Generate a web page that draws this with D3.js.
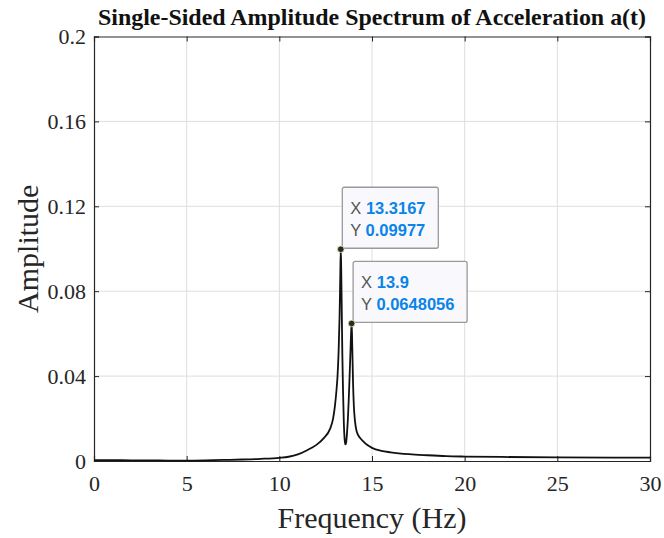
<!DOCTYPE html>
<html>
<head>
<title>Amplitude Spectrum</title>
<script src="https://cdn.jsdelivr.net/npm/d3@7"></script>
<style>
body { margin: 0; background: #fff; }
svg { display: block; }
</style>
</head>
<body>
<svg width="664" height="538"></svg>
<script>
// spectrum (Hz, amplitude)
var freq = [0, 1, 2, 3, 4, 5, 6, 7, 8, 9, 10, 10.5, 11, 11.5, 12, 12.4,
            12.73, 12.9, 13.0, 13.08, 13.14, 13.2, 13.25, 13.29, 13.3167,
            13.34, 13.37, 13.4, 13.44, 13.48, 13.52, 13.56, 13.6, 13.65,
            13.7, 13.75, 13.8, 13.84, 13.87, 13.9, 13.92, 13.95, 13.98,
            14.02, 14.08, 14.17, 14.36, 14.5, 14.75, 15, 15.5, 16, 17, 18,
            19, 20, 22, 25, 28, 30];
var amp = [0.0004, 0.0004, 0.0003, 0.0003, 0.0002, 0.0002, 0.0003, 0.0005,
           0.0007, 0.001, 0.0015, 0.002, 0.0031, 0.0051, 0.0076, 0.0108,
           0.015, 0.02, 0.026, 0.033, 0.04, 0.052, 0.068, 0.088, 0.09977,
           0.09, 0.07, 0.05, 0.032, 0.018, 0.0105, 0.0078, 0.0085, 0.013,
           0.02, 0.03, 0.042, 0.052, 0.06, 0.0648056, 0.06, 0.048, 0.036,
           0.026, 0.019, 0.014, 0.0108, 0.0095, 0.0075, 0.0062, 0.0048,
           0.0041, 0.0032, 0.0027, 0.0023, 0.0021, 0.0019, 0.0017, 0.0016,
           0.0016];

var xTicks = [0, 5, 10, 15, 20, 25, 30];
var yTicks = [0, 0.04, 0.08, 0.12, 0.16, 0.2];
var yTickLabels = ["0", "0.04", "0.08", "0.12", "0.16", "0.2"];

// data tips
var tipX = [13.3167, 13.9];
var tipY = [0.09977, 0.0648056];
var tipXText = ["13.3167", "13.9"];
var tipYText = ["0.09977", "0.0648056"];

var svg = d3.select("svg");
var x = d3.scaleLinear().domain([0, 30]).range([94, 650]);
var y = d3.scaleLinear().domain([0, 0.2]).range([461, 36.5]);

var serif = "'Liberation Serif', 'Times New Roman', serif";
var sans = "'Liberation Sans', Arial, sans-serif";

// grid
svg.append("g").selectAll("line")
    .data(xTicks.slice(1, -1))
  .enter().append("line")
    .attr("x1", function(d){ return x(d); })
    .attr("x2", function(d){ return x(d); })
    .attr("y1", y(0)).attr("y2", y(0.2))
    .attr("stroke", "#dedede").attr("stroke-width", 1);
svg.append("g").selectAll("line")
    .data(yTicks.slice(1, -1))
  .enter().append("line")
    .attr("y1", function(d){ return y(d); })
    .attr("y2", function(d){ return y(d); })
    .attr("x1", x(0)).attr("x2", x(30))
    .attr("stroke", "#dedede").attr("stroke-width", 1);

// axes, ticks inward on every side
var axBottom = svg.append("g").attr("transform", "translate(0," + y(0) + ")")
    .call(d3.axisBottom(x).tickValues(xTicks).tickSize(-5).tickPadding(14));
var axTop = svg.append("g").attr("transform", "translate(0," + y(0.2) + ")")
    .call(d3.axisTop(x).tickValues(xTicks).tickSize(-5).tickFormat(""));
var axLeft = svg.append("g").attr("transform", "translate(" + x(0) + ",0)")
    .call(d3.axisLeft(y).tickValues(yTicks).tickSize(-5).tickPadding(8)
          .tickFormat(function(d, i){ return yTickLabels[i]; }));
var axRight = svg.append("g").attr("transform", "translate(" + x(30) + ",0)")
    .call(d3.axisRight(y).tickValues(yTicks).tickSize(-5).tickFormat(""));

[axBottom, axTop, axLeft, axRight].forEach(function(g){
  g.select(".domain").attr("stroke", "#262626").attr("stroke-width", 1.2);
  g.selectAll(".tick line").attr("stroke", "#262626");
  g.selectAll("text").attr("fill", "#262626")
      .style("font-family", serif).style("font-size", "22px");
});
axBottom.selectAll(".tick text").attr("dy", "0.71em");

// spectrum
svg.append("path")
    .datum(d3.zip(freq, amp))
    .attr("fill", "none")
    .attr("stroke", "#111")
    .attr("stroke-width", 1.8)
    .attr("stroke-linejoin", "round")
    .attr("d", d3.line()
        .x(function(d){ return x(d[0]); })
        .y(function(d){ return y(d[1]); })
        .curve(d3.curveMonotoneX));

// titles
svg.append("text")
    .attr("x", 372).attr("y", 25)
    .attr("text-anchor", "middle")
    .attr("textLength", 548).attr("lengthAdjust", "spacingAndGlyphs")
    .style("font-family", serif).style("font-weight", "bold")
    .style("font-size", "23px").attr("fill", "#111")
    .text("Single-Sided Amplitude Spectrum of Acceleration a(t)");
svg.append("text")
    .attr("x", 372).attr("y", 528)
    .attr("text-anchor", "middle")
    .style("font-family", serif).style("font-size", "30px").attr("fill", "#262626")
    .text("Frequency (Hz)");
svg.append("text")
    .attr("transform", "translate(38," + y(0.1) + ") rotate(-90)")
    .attr("text-anchor", "middle")
    .style("font-family", serif).style("font-size", "30px").attr("fill", "#262626")
    .text("Amplitude");

// data tips
var tipW = [96, 114];
var tips = svg.append("g").selectAll("g")
    .data(tipX)
  .enter().append("g")
    .attr("transform", function(d, i){
        return "translate(" + (x(d) + 1.5) + "," + (y(tipY[i]) - 62) + ")"; });
tips.append("rect")
    .attr("width", function(d, i){ return tipW[i]; })
    .attr("height", 61)
    .attr("rx", 2)
    .attr("fill", "#f9f9fd")
    .attr("stroke", "#9a9a9a")
    .attr("stroke-width", 1.3);
tips.append("text")
    .attr("x", 8).attr("y", 27)
    .style("font-family", sans).style("font-size", "16.5px")
    .call(function(t){
        t.append("tspan").attr("fill", "#555").text("X ");
        t.append("tspan").attr("fill", "#0a84e8").style("font-weight", "bold")
            .text(function(d, i){ return tipXText[i]; });
    });
tips.append("text")
    .attr("x", 8).attr("y", 49)
    .style("font-family", sans).style("font-size", "16.5px")
    .call(function(t){
        t.append("tspan").attr("fill", "#555").text("Y ");
        t.append("tspan").attr("fill", "#0a84e8").style("font-weight", "bold")
            .text(function(d, i){ return tipYText[i]; });
    });
svg.append("g").selectAll("circle")
    .data(tipX)
  .enter().append("circle")
    .attr("cx", function(d){ return x(d); })
    .attr("cy", function(d, i){ return y(tipY[i]); })
    .attr("r", 3.3)
    .attr("fill", "#2a2a1e")
    .attr("stroke", "#e8e4c8")
    .attr("stroke-width", 0.8);
</script>
</body>
</html>
